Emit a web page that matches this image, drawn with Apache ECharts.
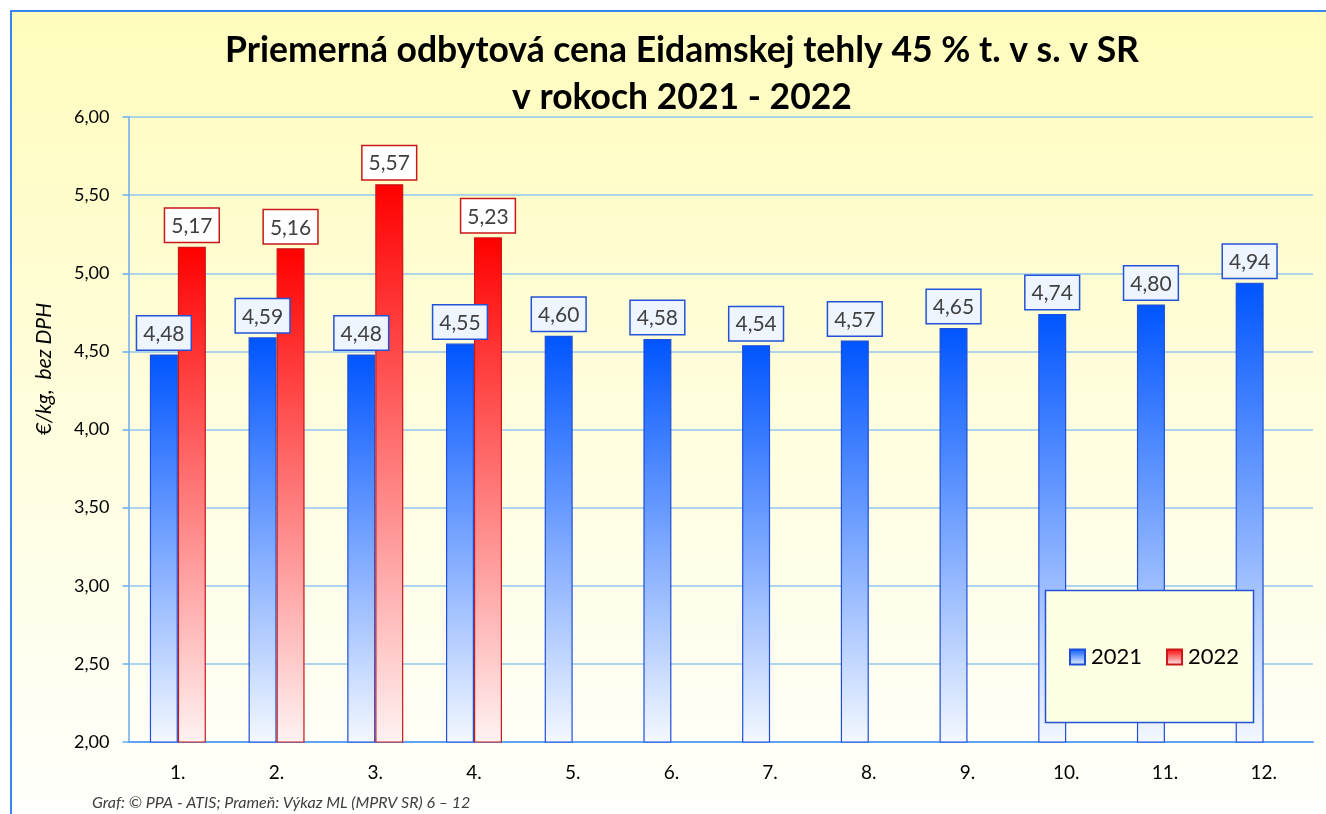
<!DOCTYPE html>
<html>
<head>
<meta charset="utf-8">
<script src="https://cdn.jsdelivr.net/npm/echarts@6/dist/echarts.min.js"></script>
<style>html,body{margin:0;padding:0;background:#fff;}#c{width:1326px;height:814px;}</style>
</head>
<body>
<div id="c"></div>
<script>
const months = ['1.', '2.', '3.', '4.', '5.', '6.', '7.', '8.', '9.', '10.', '11.', '12.'];
const values2021 = [4.48, 4.59, 4.48, 4.55, 4.60, 4.58, 4.54, 4.57, 4.65, 4.74, 4.80, 4.94];
const values2022 = [5.17, 5.16, 5.57, 5.23, null, null, null, null, null, null, null, null];
const seriesNames = ['2021', '2022'];
const yTicks = { min: 2, max: 6, interval: 0.5 };

const FONT = 'Lato';
const fmt = v => Number(v).toFixed(2).replace('.', ',');
const grad = (top, bottom) => ({ type: 'linear', x: 0, y: 0, x2: 0, y2: 1,
  colorStops: [{ offset: 0, color: top }, { offset: 1, color: bottom }] });

const chart = echarts.init(document.getElementById('c'), null, { renderer: 'canvas' });
chart.setOption({
  animation: false,
  textStyle: { fontFamily: FONT },
  title: {
    text: 'Priemerná odbytová cena Eidamskej tehly 45 % t. v s. v SR\nv rokoch 2021 - 2022',
    left: 677, textAlign: 'center', top: 22,
    textStyle: { fontFamily: FONT, fontSize: 35.5, fontWeight: 'bold', color: '#000', lineHeight: 47 }
  },
  graphic: [
    { type: 'rect', z: -10, silent: true,
      shape: { x: 11, y: 11, width: 1340, height: 840 },
      style: { fill: grad('#fffcbd', '#ffffff'), stroke: '#3a84ee', lineWidth: 2 } },
    { type: 'rect', z: 10, silent: true,
      shape: { x: 1045.5, y: 590.5, width: 208, height: 132 },
      style: { fill: '#ffffe4', stroke: '#2452d6', lineWidth: 1.5 } },
    { type: 'text', z: 10, left: 92, top: 795,
      style: { text: 'Graf: \u00A9 PPA - ATIS; Prameň: Výkaz ML (MPRV SR) 6 – 12',
        font: 'italic 16px ' + FONT, fill: '#404040' } },
    { type: 'text', z: 10, x: 44, y: 369, rotation: Math.PI / 2,
      style: { text: '€/kg,  bez DPH', font: 'italic 21px ' + FONT, fill: '#000',
        textAlign: 'center', textVerticalAlign: 'middle' } }
  ],
  legend: {
    data: seriesNames, left: 1064, top: 641, z: 20,
    itemWidth: 15, itemHeight: 15, itemGap: 24,
    icon: 'rect',
    textStyle: { fontFamily: FONT, fontSize: 22, color: '#000', padding: [0, 0, 0, 1] }
  },
  grid: { left: 128.5, right: 13, top: 117, bottom: 72, containLabel: false },
  xAxis: {
    type: 'category', data: months,
    axisLine: { lineStyle: { color: '#5ea6f5', width: 2 } },
    axisTick: { show: false },
    axisLabel: { fontFamily: FONT, fontSize: 19, color: '#000', margin: 21 }
  },
  yAxis: {
    type: 'value', min: yTicks.min, max: yTicks.max, interval: yTicks.interval,
    axisLine: { show: true, lineStyle: { color: '#6aaaf0', width: 1.5 } },
    axisTick: { show: true, length: 6, lineStyle: { color: '#6aaaf0', width: 1.5 } },
    axisLabel: { fontFamily: FONT, fontSize: 18, color: '#000', margin: 19, formatter: fmt },
    splitLine: { lineStyle: { color: '#93c6f2', width: 1.5 } }
  },
  series: [
    { name: seriesNames[0], type: 'bar', data: values2021, barWidth: 28, barGap: '0%',
      itemStyle: { color: grad('#0055ff', '#f4f8ff'), borderColor: '#1f4fd8', borderWidth: 1.2 },
      label: { show: true, position: 'top', distance: 5, formatter: p => fmt(p.value),
        fontFamily: FONT, fontSize: 21, color: '#404040',
        backgroundColor: '#eef5ff', borderColor: '#2452d6', borderWidth: 1.5, padding: [7, 6, 5, 6] } },
    { name: seriesNames[1], type: 'bar', data: values2022, barWidth: 28,
      itemStyle: { color: grad('#ff0000', '#fff2f2'), borderColor: '#c81818', borderWidth: 1.2 },
      label: { show: true, position: 'top', distance: 5, formatter: p => fmt(p.value),
        fontFamily: FONT, fontSize: 21, color: '#404040',
        backgroundColor: '#ffffff', borderColor: '#c81818', borderWidth: 1.5, padding: [7, 6, 5, 6] } }
  ]
});
</script>
</body>
</html>
